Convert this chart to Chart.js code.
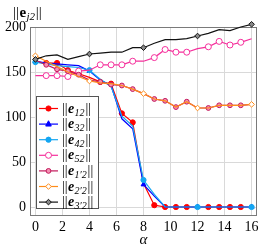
<!DOCTYPE html>
<html>
<head>
<meta charset="utf-8">
<script src="https://cdn.jsdelivr.net/npm/chart.js@4.4.0/dist/chart.umd.min.js"></script>
<style>
  html, body { margin: 0; padding: 0; background: #fff; }
  #wrap { width: 262px; height: 248px; }
</style>
</head>
<body>
<div id="wrap"><canvas id="normChart" width="262" height="248"></canvas></div>
<script>
const alpha = [0, 0.8, 1.6, 2.4, 3.2, 4, 4.8, 5.6, 6.4, 7.2, 8, 8.8, 9.6, 10.4, 11.2, 12, 12.8, 13.6, 14.4, 15.2, 16];

const e12 = [161, 160, 160, 152, 148, 144, 139, 137, 104, 94, 26, 2, 0, 0, 0, 0, 0, 0, 0, 0, 0];
const e32 = [162, 160, 159, 158, 157, 151, 141, 135, 98, 87, 25, 12, 0, 0, 0, 0, 0, 0, 0, 0, 0];
const e42 = [161, 159, 157, 156, 155, 152, 142, 134, 101, 90, 30, 14, 0, 0, 0, 0, 0, 0, 0, 0, 0];
const e52 = [146, 146, 146, 145, 151, 152, 158, 158, 158, 162, 162, 166, 175, 172, 172, 176, 178, 184, 180, 183, 187];
const e1p2 = [163, 158, 153, 151, 147, 141, 139, 136, 135, 131, 126, 120, 118, 111, 117, 110, 110, 113, 113, 113, 114];
const e2p2 = [168, 162, 156, 150, 145, 140, 138, 137, 135, 131, 126, 120, 118, 111, 117, 110, 110, 113, 113, 113, 114];
const e3p2 = [164, 168, 169, 164, 167, 170, 171, 172, 172, 177, 177, 182, 186, 186, 187, 190, 193, 197, 196, 200, 203];

const seriesSubs = ["12", "32", "42", "52", "1′2", "2′2", "3′2"];
const seriesValues = [e12, e32, e42, e52, e1p2, e2p2, e3p2];

const xTicks = [0, 2, 4, 6, 8, 10, 12, 14, 16];
const yTicks = [0, 50, 100, 150, 200];

// look of each series (pgfplots-like)
const looks = [
  { color: "#ff0000", fill: "#ff0000", shape: "circle", r: 2.6, marks: "off5" },
  { color: "#0000ff", fill: "#0000ff", shape: "triangle", r: 2.8, marks: "on5" },
  { color: "#14a6f2", fill: "#14a6f2", shape: "circle", r: 2.6, marks: "on5" },
  { color: "#f5309c", fill: "#ffffff", shape: "circle", r: 3, marks: "off5" },
  { color: "#c2185b", fill: "#f48fb1", shape: "circle", r: 2.4, marks: "off5" },
  { color: "#ff8c1a", fill: "#ffffff", shape: "rectRot", r: 2.8, marks: "on5" },
  { color: "#111111", fill: "#888888", shape: "rectRot", r: 2.8, marks: "on5" },
];

const markRadius = (look) =>
  alpha.map((_, i) => ((i % 5 === 0) === (look.marks === "on5") ? look.r : 0));

const serif = "'Liberation Serif', 'DejaVu Serif', serif";

function drawMarker(ctx, look, x, y) {
  const r = look.r;
  ctx.save();
  ctx.fillStyle = look.fill;
  ctx.strokeStyle = look.color;
  ctx.lineWidth = 1;
  ctx.beginPath();
  if (look.shape === "circle") {
    ctx.arc(x, y, r, 0, Math.PI * 2);
  } else if (look.shape === "triangle") {
    ctx.moveTo(x, y - r * 1.2);
    ctx.lineTo(x + r, y + r * 0.7);
    ctx.lineTo(x - r, y + r * 0.7);
    ctx.closePath();
  } else {
    ctx.moveTo(x, y - r);
    ctx.lineTo(x + r, y);
    ctx.lineTo(x, y + r);
    ctx.lineTo(x - r, y);
    ctx.closePath();
  }
  ctx.fill();
  ctx.stroke();
  ctx.restore();
}

// norm bars: two thin serif strokes, returns the new x
function drawBars(ctx, x, base, size) {
  ctx.font = `${size}px ${serif}`;
  ctx.fillText("|", x, base);
  ctx.fillText("|", x + size * 0.2, base);
  return x + ctx.measureText("|").width + size * 0.2 + 0.5;
}

// writes ‖e_sub‖ piece by piece
function drawNorm(ctx, x, base, sub, size, eFont) {
  ctx.fillStyle = "#000";
  ctx.textBaseline = "alphabetic";
  ctx.textAlign = "left";
  x = drawBars(ctx, x, base, size);
  ctx.font = `${eFont} ${size}px ${serif}`;
  ctx.fillText("e", x, base);
  x += ctx.measureText("e").width + 0.3;
  const subSize = Math.round(size * 0.72);
  ctx.font = `italic ${subSize}px ${serif}`;
  ctx.fillText(sub, x, base + 3);
  x += ctx.measureText(sub).width + 0.8;
  drawBars(ctx, x, base, size);
}

const framePlugin = {
  id: "frame",
  beforeDatasetsDraw(chart) {
    const { ctx, chartArea: a } = chart;
    ctx.save();
    ctx.strokeStyle = "#7a7a7a";
    ctx.lineWidth = 1;
    ctx.strokeRect(a.left + 0.5, a.top + 0.5, a.right - a.left - 1, a.bottom - a.top - 1);
    ctx.restore();
  },
  afterDraw(chart) {
    const ctx = chart.ctx;
    ctx.save();
    // y title
    drawNorm(ctx, 13, 17, "j2", 15, "bold");

    // legend box
    const bx = 36, by = 96, bw = 63, bh = 113;
    ctx.fillStyle = "#fff";
    ctx.fillRect(bx, by, bw, bh);
    ctx.strokeStyle = "#555";
    ctx.lineWidth = 1;
    ctx.strokeRect(bx + 0.5, by + 0.5, bw - 1, bh - 1);

    looks.forEach((look, k) => {
      const y = 108.5 + 15.6 * k;
      ctx.strokeStyle = look.color;
      ctx.lineWidth = 1.2;
      ctx.beginPath();
      ctx.moveTo(39, y);
      ctx.lineTo(58, y);
      ctx.stroke();
      drawMarker(ctx, look, 48.5, y);
      drawNorm(ctx, 62, y + 4, seriesSubs[k], 14, "italic bold");
    });
    ctx.restore();
  },
};

const datasets = seriesValues.map((vals, i) => ({
  label: seriesSubs[i],
  data: alpha.map((a, j) => ({ x: a, y: vals[j] })),
  borderColor: looks[i].color,
  borderWidth: 1.2,
  backgroundColor: looks[i].fill,
  pointBackgroundColor: looks[i].fill,
  pointBorderColor: looks[i].color,
  pointBorderWidth: 1,
  pointStyle: looks[i].shape,
  pointRadius: markRadius(looks[i]),
  tension: 0,
  clip: false,
  order: seriesValues.length - i,
}));

new Chart(document.getElementById("normChart"), {
  type: "line",
  data: { datasets },
  plugins: [framePlugin],
  options: {
    responsive: false,
    animation: false,
    events: [],
    layout: { padding: { top: 27, right: 5, left: 0, bottom: 0 } },
    plugins: { legend: { display: false }, tooltip: { enabled: false } },
    scales: {
      x: {
        type: "linear",
        min: -0.4,
        max: 16.4,
        afterBuildTicks: (scale) => { scale.ticks = xTicks.map((v) => ({ value: v })); },
        afterFit: (scale) => { scale.height = 32; },
        border: { display: false },
        grid: { color: "#d9d9d9", drawTicks: false },
        ticks: { color: "#000", padding: 3, maxRotation: 0, font: { family: serif, size: 14 } },
        title: {
          display: true,
          text: "α",
          color: "#000",
          font: { family: serif, size: 15, style: "italic", lineHeight: 1 },
          padding: { top: 0, bottom: 0 },
        },
      },
      y: {
        min: -10,
        max: 200,
        afterBuildTicks: (scale) => { scale.ticks = yTicks.map((v) => ({ value: v })); },
        afterFit: (scale) => { scale.width = 30; },
        border: { display: false },
        grid: { color: "#d9d9d9", drawTicks: false },
        ticks: { color: "#000", padding: 4, font: { family: serif, size: 14 } },
      },
    },
  },
});
</script>
</body>
</html>
